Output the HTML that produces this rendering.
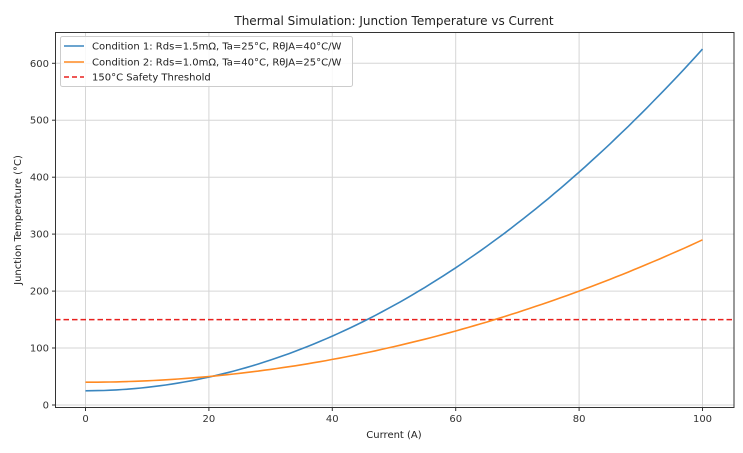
<!DOCTYPE html>
<html><head><meta charset="utf-8"><style>
body{margin:0;background:#fff;width:743px;height:449px;overflow:hidden;font-family:"DejaVu Sans","Liberation Sans",sans-serif}
</style></head><body>
<svg width="743" height="449" xmlns="http://www.w3.org/2000/svg" font-family="DejaVu Sans, Liberation Sans, sans-serif">
<g stroke="#d6d6d6" stroke-width="1">
<line x1="85.5" y1="32.5" x2="85.5" y2="407.5"/><line x1="208.9" y1="32.5" x2="208.9" y2="407.5"/><line x1="332.3" y1="32.5" x2="332.3" y2="407.5"/><line x1="455.7" y1="32.5" x2="455.7" y2="407.5"/><line x1="579.1" y1="32.5" x2="579.1" y2="407.5"/><line x1="702.5" y1="32.5" x2="702.5" y2="407.5"/>
<line x1="55" y1="405" x2="734" y2="405"/><line x1="55" y1="348" x2="734" y2="348"/><line x1="55" y1="291.1" x2="734" y2="291.1"/><line x1="55" y1="234.1" x2="734" y2="234.1"/><line x1="55" y1="177.2" x2="734" y2="177.2"/><line x1="55" y1="120.2" x2="734" y2="120.2"/><line x1="55" y1="63.3" x2="734" y2="63.3"/>
</g>
<line x1="55" y1="319.6" x2="734" y2="319.6" stroke="#e8201e" stroke-width="1.5" stroke-dasharray="5.5,3"/>
<polyline id="c1" fill="none" stroke="#3a86bf" stroke-width="1.6" points=""/>
<polyline id="c2" fill="none" stroke="#ff8a22" stroke-width="1.6" points=""/>
<rect x="55.5" y="32.5" width="678.5" height="375" fill="none" stroke="#333" stroke-width="1"/>
<g font-size="10" fill="#333" text-anchor="middle">
<text x="85.5" y="422">0</text><text x="208.9" y="422">20</text><text x="332.3" y="422">40</text><text x="455.7" y="422">60</text><text x="579.1" y="422">80</text><text x="702.5" y="422">100</text>
</g>
<g stroke="#333"><line x1="85.5" y1="408" x2="85.5" y2="411"/><line x1="208.9" y1="408" x2="208.9" y2="411"/><line x1="332.3" y1="408" x2="332.3" y2="411"/><line x1="455.7" y1="408" x2="455.7" y2="411"/><line x1="579.1" y1="408" x2="579.1" y2="411"/><line x1="702.5" y1="408" x2="702.5" y2="411"/>
<line x1="52" y1="405" x2="55" y2="405"/><line x1="52" y1="348" x2="55" y2="348"/><line x1="52" y1="291.1" x2="55" y2="291.1"/><line x1="52" y1="234.1" x2="55" y2="234.1"/><line x1="52" y1="177.2" x2="55" y2="177.2"/><line x1="52" y1="120.2" x2="55" y2="120.2"/><line x1="52" y1="63.3" x2="55" y2="63.3"/></g>
<g font-size="10" fill="#333" text-anchor="end">
<text x="49" y="408.5">0</text><text x="49" y="351.5">100</text><text x="49" y="294.6">200</text><text x="49" y="237.6">300</text><text x="49" y="180.7">400</text><text x="49" y="123.7">500</text><text x="49" y="66.8">600</text>
</g>
<text x="394" y="438" font-size="10" fill="#222" text-anchor="middle">Current (A)</text>
<text transform="translate(21,220) rotate(-90)" font-size="10" fill="#222" text-anchor="middle">Junction Temperature (°C)</text>
<text x="394" y="25" font-size="12" fill="#222" text-anchor="middle">Thermal Simulation: Junction Temperature vs Current</text>
<rect x="60.5" y="36.5" width="292" height="50" rx="2" fill="#fff" fill-opacity="0.85" stroke="#ccc"/>
<line x1="64" y1="46" x2="84" y2="46" stroke="#3a86bf" stroke-width="1.6"/>
<line x1="64" y1="62" x2="84" y2="62" stroke="#ff8a22" stroke-width="1.6"/>
<line x1="64" y1="77" x2="84" y2="77" stroke="#e8201e" stroke-width="1.5" stroke-dasharray="5,3"/>
<g font-size="10" fill="#222">
<text x="92" y="49.5">Condition 1: Rds=1.5mΩ, Ta=25°C, RθJA=40°C/W</text>
<text x="92" y="65.5">Condition 2: Rds=1.0mΩ, Ta=40°C, RθJA=25°C/W</text>
<text x="92" y="80.5">150°C Safety Threshold</text>
</g>
</svg>
<script>
function pts(a,b){var s=[];for(var i=0;i<=100;i+=1){var T=a+b*i*i;s.push((85.5+i*6.17).toFixed(1)+","+(405-T*0.5695).toFixed(1));}return s.join(" ");}
document.getElementById("c1").setAttribute("points",pts(25,0.06));
document.getElementById("c2").setAttribute("points",pts(40,0.025));
</script>
</body></html>
